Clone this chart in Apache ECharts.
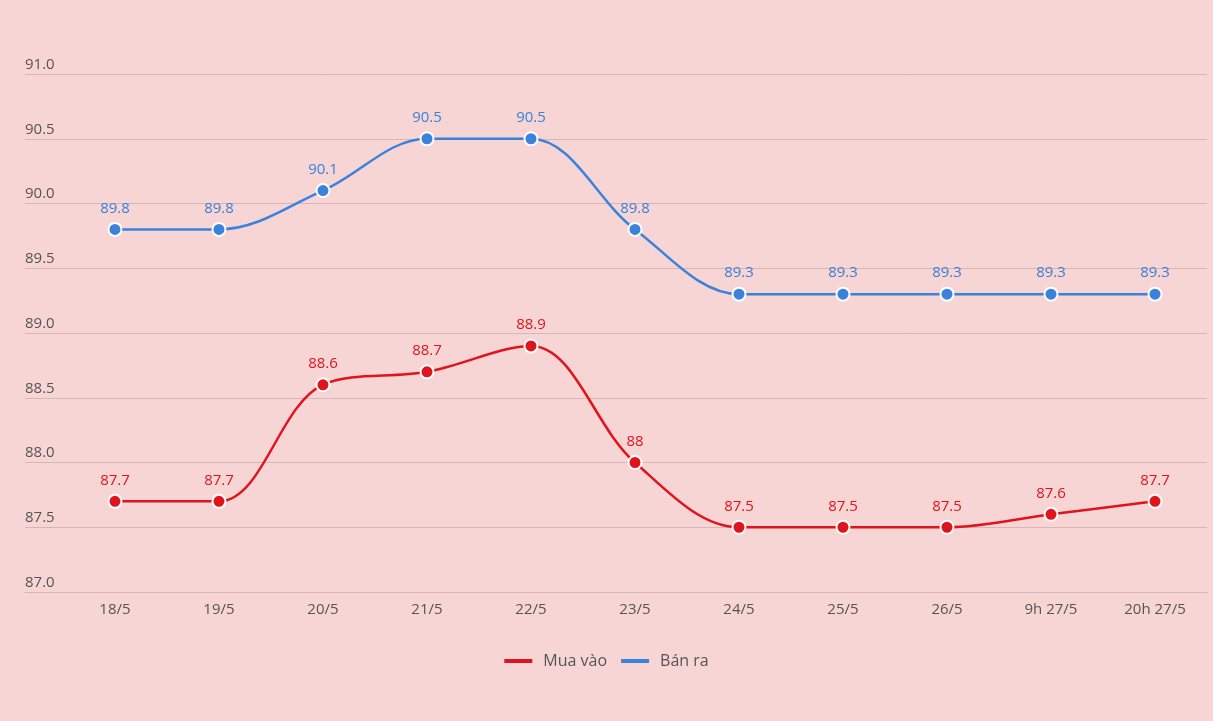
<!DOCTYPE html>
<html>
<head>
<meta charset="utf-8">
<style>
  html, body { margin: 0; padding: 0; background: #f7d5d5; }
  #chart { width: 1213px; height: 721px; }
</style>
<script src="https://cdn.jsdelivr.net/npm/echarts@6/dist/echarts.min.js"></script>
</head>
<body>
<div id="chart"></div>
<script>
// dữ liệu
var categories = ["18/5", "19/5", "20/5", "21/5", "22/5", "23/5", "24/5", "25/5", "26/5", "9h 27/5", "20h 27/5"];
var muaVao = [87.7, 87.7, 88.6, 88.7, 88.9, 88, 87.5, 87.5, 87.5, 87.6, 87.7];
var banRa = [89.8, 89.8, 90.1, 90.5, 90.5, 89.8, 89.3, 89.3, 89.3, 89.3, 89.3];

var fontFamily = "Open Sans, sans-serif";
var idx = categories.map(function (c, i) { return i; });

function pairs(arr) {
  return arr.map(function (v, i) { return [i, v]; });
}

function makeSeries(name, data, color) {
  return {
    name: name,
    type: "line",
    smooth: 0.35,
    data: pairs(data),
    symbol: "circle",
    symbolSize: 13,
    lineStyle: { color: color, width: 2.5 },
    itemStyle: { color: color, borderColor: "#fff", borderWidth: 2 },
    label: {
      show: true,
      position: "top",
      distance: 6,
      color: color,
      fontSize: 15,
      fontFamily: fontFamily,
      formatter: function (p) { return String(p.value[1]); }
    }
  };
}

var chart = echarts.init(document.getElementById("chart"));
chart.setOption({
  backgroundColor: "#f7d5d5",
  animation: false,
  textStyle: { fontFamily: fontFamily },
  grid: { left: 25, right: 6, top: 74, bottom: 129, containLabel: false },
  legend: {
    bottom: 47,
    left: "center",
    icon: "rect",
    itemWidth: 28,
    itemHeight: 4,
    itemGap: 14,
    itemStyle: { borderWidth: 0 },
    textStyle: { color: "#555", fontSize: 16, fontFamily: fontFamily, padding: [0, 0, 0, 6] },
    data: ["Mua vào", "Bán ra"]
  },
  xAxis: {
    type: "value",
    min: -0.865,
    max: 10.5,
    splitLine: { show: false },
    axisTick: { show: false },
    axisLine: { show: true, lineStyle: { color: "#d8b6b6" } },
    axisLabel: {
      customValues: idx,
      color: "#555",
      fontSize: 15,
      margin: 10,
      formatter: function (v) { return categories[Math.round(v)] || ""; }
    }
  },
  yAxis: {
    type: "value",
    min: 87,
    max: 91,
    interval: 0.5,
    axisLine: { show: false },
    axisTick: { show: false },
    splitLine: { lineStyle: { color: "#d8b6b6", width: 1 } },
    axisLabel: {
      inside: true,
      margin: 0,
      align: "left",
      verticalAlign: "bottom",
      padding: [0, 0, 2, 0],
      color: "#555",
      fontSize: 15,
      formatter: function (v) { return v.toFixed(1); }
    }
  },
  series: [
    makeSeries("Mua vào", muaVao, "#e0141c"),
    makeSeries("Bán ra", banRa, "#3a82dc")
  ]
});
</script>
</body>
</html>
